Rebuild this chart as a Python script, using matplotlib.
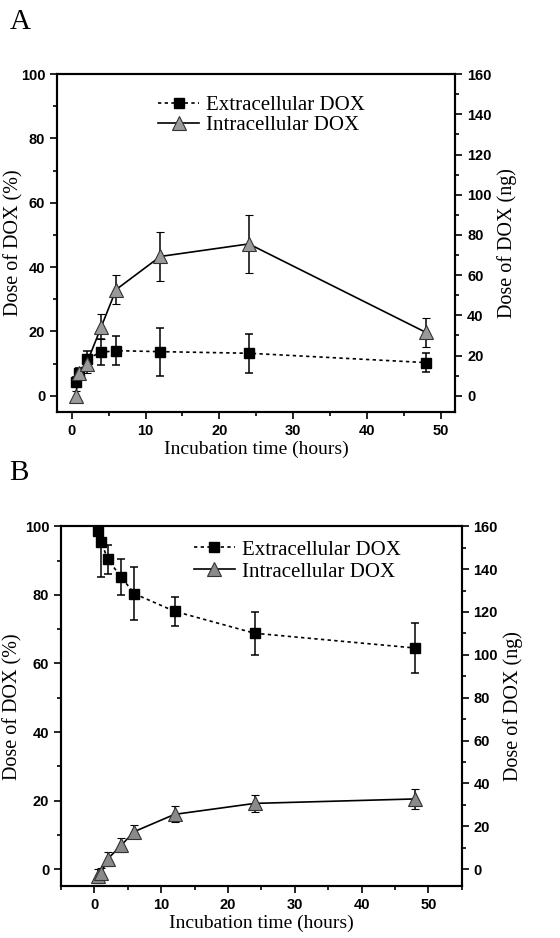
import matplotlib
matplotlib.use('Agg')
import matplotlib.pyplot as plt
from matplotlib.ticker import MultipleLocator
from matplotlib.lines import Line2D

# time points (hours)
time = [0.5, 1, 2, 4, 6, 12, 24, 48]

# Panel A
a_extra = [4.3, 7.0, 11.5, 13.5, 14.0, 13.7, 13.2, 10.3]
a_extra_err = [1.5, 1.5, 2.5, 4.0, 4.5, 7.5, 6.0, 3.0]
a_intra = [0.0, 7.0, 10.0, 21.5, 33.0, 43.3, 47.2, 19.7]
a_intra_err = [1.5, 1.5, 3.0, 4.0, 4.5, 7.5, 9.0, 4.5]

# Panel B
b_extra = [98.5, 95.5, 90.3, 85.2, 80.3, 75.2, 68.8, 64.5]
b_extra_err = [1.0, 10.3, 4.2, 5.3, 7.7, 4.2, 6.2, 7.4]
b_intra = [-2.0, -1.0, 3.0, 7.0, 11.0, 16.0, 19.2, 20.5]
b_intra_err = [2.0, 1.5, 2.0, 2.0, 2.0, 2.3, 2.5, 3.0]

serif = ['Liberation Serif', 'DejaVu Serif']
sans = ['Liberation Sans', 'DejaVu Sans']

fig = plt.figure(figsize=(5.6, 9.38), dpi=100)


def style_ticks(ax, labels):
    ax.tick_params(which='both', direction='out', width=1.2)
    ax.tick_params(which='major', length=5)
    ax.tick_params(which='minor', length=3)
    for lab in labels:
        lab.set_family(sans)
        lab.set_fontweight('bold')
        lab.set_fontsize(10.5)
    for s in ax.spines.values():
        s.set_linewidth(1.5)


def panel(rect, extra, extra_err, intra, intra_err, xlim, tri_color,
          letter, letter_y, leg_anchor, leg_space, lab_x):
    ax = fig.add_axes(rect)
    sq = dict(marker='s', ms=7.5, mfc='black', mec='black')
    tri = dict(marker='^', ms=9.5, mfc=tri_color, mec='#333333', mew=0.8)
    ax.errorbar(time, extra, yerr=extra_err, color='black', ls=(0, (2, 2)), lw=1.2,
                capsize=3, elinewidth=1.1, capthick=1.1, zorder=3, **sq)
    ax.errorbar(time, intra, yerr=intra_err, color='black', ls='-', lw=1.2,
                capsize=3, elinewidth=1.1, capthick=1.1, zorder=3, **tri)
    ax.set_xlim(*xlim)
    ax.set_ylim(-5, 100)
    ax.xaxis.set_major_locator(MultipleLocator(10))
    ax.xaxis.set_minor_locator(MultipleLocator(5))
    ax.yaxis.set_major_locator(MultipleLocator(20))
    ax.yaxis.set_minor_locator(MultipleLocator(10))
    style_ticks(ax, ax.get_xticklabels() + ax.get_yticklabels())
    ax.set_xlabel('Incubation time (hours)', family=serif, fontsize=14, labelpad=2)
    ax.set_ylabel('Dose of DOX (%)', family=serif, fontsize=14.5)
    ax.yaxis.set_label_coords(lab_x[0], 0.5)

    ax2 = ax.twinx()
    ax2.set_ylim(-8, 160)
    ax2.yaxis.set_major_locator(MultipleLocator(20))
    ax2.yaxis.set_minor_locator(MultipleLocator(10))
    style_ticks(ax2, ax2.get_yticklabels())
    ax2.set_ylabel('Dose of DOX (ng)', family=serif, fontsize=14.5)
    ax2.yaxis.set_label_coords(lab_x[1], 0.5)

    handles = [Line2D([], [], color='black', ls=(0, (2, 2)), lw=1.2, **sq),
               Line2D([], [], color='black', ls='-', lw=1.2, **tri)]
    ax.legend(handles, ['Extracellular DOX', 'Intracellular DOX'],
              loc='upper left', bbox_to_anchor=leg_anchor, frameon=False,
              prop={'family': serif, 'size': 15}, handlelength=2.0,
              handletextpad=0.3, labelspacing=leg_space, borderaxespad=0)
    fig.text(0.017, letter_y, letter, family=serif, fontsize=21, va='top')
    return ax


panel([0.102, 0.561, 0.711, 0.360], a_extra, a_extra_err, a_intra, a_intra_err,
      (-2, 52), '#9a9a9a', 'A', 0.990, (0.232, 0.962), 0.05, (-0.085, 1.105))
panel([0.109, 0.055, 0.7155, 0.384], b_extra, b_extra_err, b_intra, b_intra_err,
      (-5, 55), '#8a8a8a', 'B', 0.510, (0.31, 0.985), 0.12, (-0.095, 1.103))

fig.savefig('out.png', dpi=100)
